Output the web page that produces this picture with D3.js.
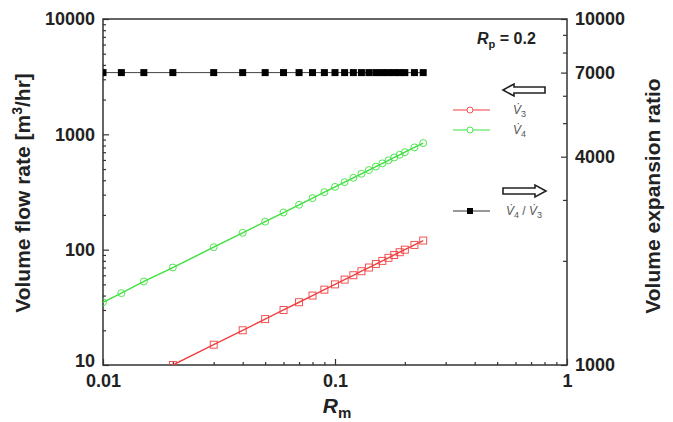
<!DOCTYPE html>
<html>
<head>
<meta charset="utf-8">
<script src="https://cdn.jsdelivr.net/npm/d3@7"></script>
<style>
  body { margin: 0; background: #fff; }
  svg { font-family: 'Liberation Sans', Arial, sans-serif; }
</style>
</head>
<body>
<svg id="chart" width="673" height="422"></svg>
<script>
// R_m values
const rm = [0.01, 0.012, 0.015, 0.02, 0.03, 0.04, 0.05, 0.06, 0.07, 0.08, 0.09, 0.1,
  0.11, 0.12, 0.13, 0.14, 0.15, 0.16, 0.17, 0.18, 0.19, 0.2, 0.22, 0.24]
// volume flow rate V3 [m3/hr]
const v3 = [5, 6, 7.5, 10, 15, 20, 25, 30, 35, 40, 45, 50,
  55, 60, 65, 70, 75, 80, 85, 90, 95, 100, 110, 120]
// volume flow rate V4 [m3/hr]
const v4 = [35, 42, 53, 70, 105, 140, 175, 210, 245, 280, 315, 350,
  385, 420, 455, 490, 525, 560, 595, 630, 665, 700, 770, 840]
// volume expansion ratio V4/V3
const ratio = [7000, 7000, 7000, 7000, 7000, 7000, 7000, 7000, 7000, 7000, 7000, 7000,
  7000, 7000, 7000, 7000, 7000, 7000, 7000, 7000, 7000, 7000, 7000, 7000]

const xTickLabels = [0.01, 0.1, 1]
const yLeftLabels = [10, 100, 1000, 10000]
const yRightLabels = [1000, 4000, 7000, 10000]

const svg = d3.select('#chart')
const margins = {top: 19, right: 106, bottom: 57, left: 103}
const width = 673 - margins.left - margins.right
const height = 422 - margins.top - margins.bottom

const g = svg.append('g')
  .attr('transform', `translate(${margins.left}, ${margins.top})`)

const x = d3.scaleLog().domain([0.01, 1]).range([0, width])
const yL = d3.scaleLog().domain([10, 10000]).range([height, 0])
const yR = d3.scaleLog().domain([1000, 10000]).range([height, 0])

svg.append('defs').append('clipPath').attr('id', 'clip')
  .append('rect').attr('width', width).attr('height', height)

const fmt = (d) => String(d)
const axisColor = '#333'

function styleAxis(sel, labels, minorLen) {
  sel.select('.domain').remove()
  sel.selectAll('.tick').each(function (d) {
    const major = labels.some((v) => Math.abs(v - d) / v < 1e-6)
    const t = d3.select(this)
    if (!major) {
      t.select('text').remove()
      const ln = t.select('line')
      ;['x2', 'y2'].forEach((a) => {
        const v = ln.attr(a)
        if (v !== null) ln.attr(a, v > 0 ? minorLen : -minorLen)
      })
    }
  })
  sel.selectAll('line').attr('stroke', axisColor).attr('stroke-width', 1.2)
  sel.selectAll('text')
    .attr('fill', '#222')
    .style('font-size', '18px')
    .style('font-weight', 'bold')
}

const xTicks = d3.range(1, 10).map((d) => d * 0.01).concat(d3.range(1, 11).map((d) => d * 0.1))
g.append('g')
  .attr('transform', `translate(0, ${height})`)
  .call(d3.axisBottom(x).tickValues(xTicks).tickSize(-6).tickPadding(9).tickFormat(fmt))
  .call((s) => styleAxis(s, xTickLabels, 3))

const yTicks = []
;[10, 100, 1000].forEach((b) => d3.range(1, 10).forEach((k) => yTicks.push(b * k)))
yTicks.push(10000)
g.append('g')
  .call(d3.axisLeft(yL).tickValues(yTicks).tickSize(-6).tickPadding(8).tickFormat(fmt))
  .call((s) => styleAxis(s, yLeftLabels, 3))
  // lift the bottom label a little so it clears "0.01"
  .call((s) => s.selectAll('.tick').filter((d) => d === 10).select('text').attr('y', -4))

g.append('g')
  .attr('transform', `translate(${width}, 0)`)
  .call(d3.axisRight(yR).tickValues(d3.range(1, 11).map((k) => k * 1000))
    .tickSize(-6).tickPadding(8).tickFormat(fmt))
  .call((s) => styleAxis(s, yRightLabels, 4))

// frame
g.append('rect')
  .attr('width', width).attr('height', height)
  .attr('fill', 'none').attr('stroke', axisColor).attr('stroke-width', 1.5)

const plot = g.append('g').attr('clip-path', 'url(#clip)')

const red = '#f04040'
const green = '#3ee03e'

function series(vals, yScale, color, width) {
  const line = d3.line().x((d, i) => x(rm[i])).y((d) => yScale(d))
  plot.append('path').datum(vals)
    .attr('d', line).attr('fill', 'none')
    .attr('stroke', color).attr('stroke-width', width)
}

series(ratio, yR, '#444', 1)
series(v3, yL, red, 1.4)
series(v4, yL, green, 1.4)

plot.selectAll('.m3').data(v3).enter().append('rect')
  .attr('x', (d, i) => x(rm[i]) - 3.5).attr('y', (d) => yL(d) - 3.5)
  .attr('width', 7).attr('height', 7)
  .attr('fill', 'none').attr('stroke', red).attr('stroke-width', 0.9)

plot.selectAll('.m4').data(v4).enter().append('circle')
  .attr('cx', (d, i) => x(rm[i])).attr('cy', (d) => yL(d))
  .attr('r', 3.5)
  .attr('fill', 'none').attr('stroke', green).attr('stroke-width', 0.9)

plot.selectAll('.mr').data(ratio).enter().append('rect')
  .attr('x', (d, i) => x(rm[i]) - 3.5).attr('y', (d) => yR(d) - 3.5)
  .attr('width', 7).attr('height', 7)
  .attr('fill', '#000')

// axis titles
svg.append('text')
  .attr('transform', 'translate(30, 193) rotate(-90)')
  .attr('text-anchor', 'middle')
  .style('font-size', '21px').style('font-weight', 'bold').attr('fill', '#222')
  .call((t) => {
    t.append('tspan').text('Volume flow rate [m')
    t.append('tspan').text('3').attr('dy', -8).style('font-size', '14px')
    t.append('tspan').text('/hr]').attr('dy', 8)
  })

svg.append('text')
  .attr('transform', 'translate(660, 196) rotate(-90)')
  .attr('text-anchor', 'middle')
  .style('font-size', '21px').style('font-weight', 'bold').attr('fill', '#222')
  .text('Volume expansion ratio')

svg.append('text')
  .attr('x', 337).attr('y', 413)
  .attr('text-anchor', 'middle')
  .style('font-size', '21px').style('font-weight', 'bold').attr('fill', '#222')
  .call((t) => {
    t.append('tspan').text('R').style('font-style', 'italic')
    t.append('tspan').text('m').attr('dy', 5).style('font-size', '15px')
  })

// R_p annotation
svg.append('text')
  .attr('x', 477).attr('y', 44)
  .style('font-size', '16px').style('font-weight', 'bold').attr('fill', '#222')
  .call((t) => {
    t.append('tspan').text('R').style('font-style', 'italic')
    t.append('tspan').text('p').attr('dy', 4).style('font-size', '11px')
    t.append('tspan').text(' = 0.2').attr('dy', -4)
  })

// hollow arrows
function arrow(x0, x1, yc) {
  const dir = x1 > x0 ? 1 : -1
  const head = 11 * dir
  const hs = 3, hh = 6
  const pts = [
    [x0, yc - hs], [x1 - head, yc - hs], [x1 - head, yc - hh], [x1, yc],
    [x1 - head, yc + hh], [x1 - head, yc + hs], [x0, yc + hs]
  ]
  svg.append('path')
    .attr('d', 'M' + pts.map((p) => p.join(',')).join('L') + 'Z')
    .attr('fill', '#fff').attr('stroke', '#222').attr('stroke-width', 1.6)
}
arrow(545, 503, 90)
arrow(503, 546, 191)

// legend
const legend = [
  {y: 110, color: red, label: [['V\u0307', 'i'], ['3', 's']], marker: 'o'},
  {y: 130, color: green, label: [['V\u0307', 'i'], ['4', 's']], marker: 'o'},
  {y: 211, color: '#333', label: [['V\u0307', 'i'], ['4', 's'], [' / ', 'n'], ['V\u0307', 'i'], ['3', 's']], marker: 'sq'}
]
legend.forEach((e) => {
  svg.append('line')
    .attr('x1', 453).attr('x2', 490).attr('y1', e.y).attr('y2', e.y)
    .attr('stroke', e.color).attr('stroke-width', 1.2)
  if (e.marker === 'o') {
    svg.append('circle').attr('cx', 470).attr('cy', e.y).attr('r', 3)
      .attr('fill', '#fff').attr('stroke', e.color).attr('stroke-width', 0.9)
  } else {
    svg.append('rect').attr('x', 467).attr('y', e.y - 3).attr('width', 6).attr('height', 6)
      .attr('fill', '#000')
  }
  const t = svg.append('text')
    .attr('x', e.label.length > 2 ? 506 : 513).attr('y', e.y + 4)
    .style('font-size', '12px').attr('fill', '#555')
  let sub = false
  e.label.forEach(([s, k]) => {
    const sp = t.append('tspan').text(s)
    if (k === 'i') sp.style('font-style', 'italic')
    if (k === 's') { sp.attr('dy', 3).style('font-size', '9px'); sub = true }
    else if (sub) { sp.attr('dy', -3); sub = false }
  })
})
</script>
</body>
</html>
